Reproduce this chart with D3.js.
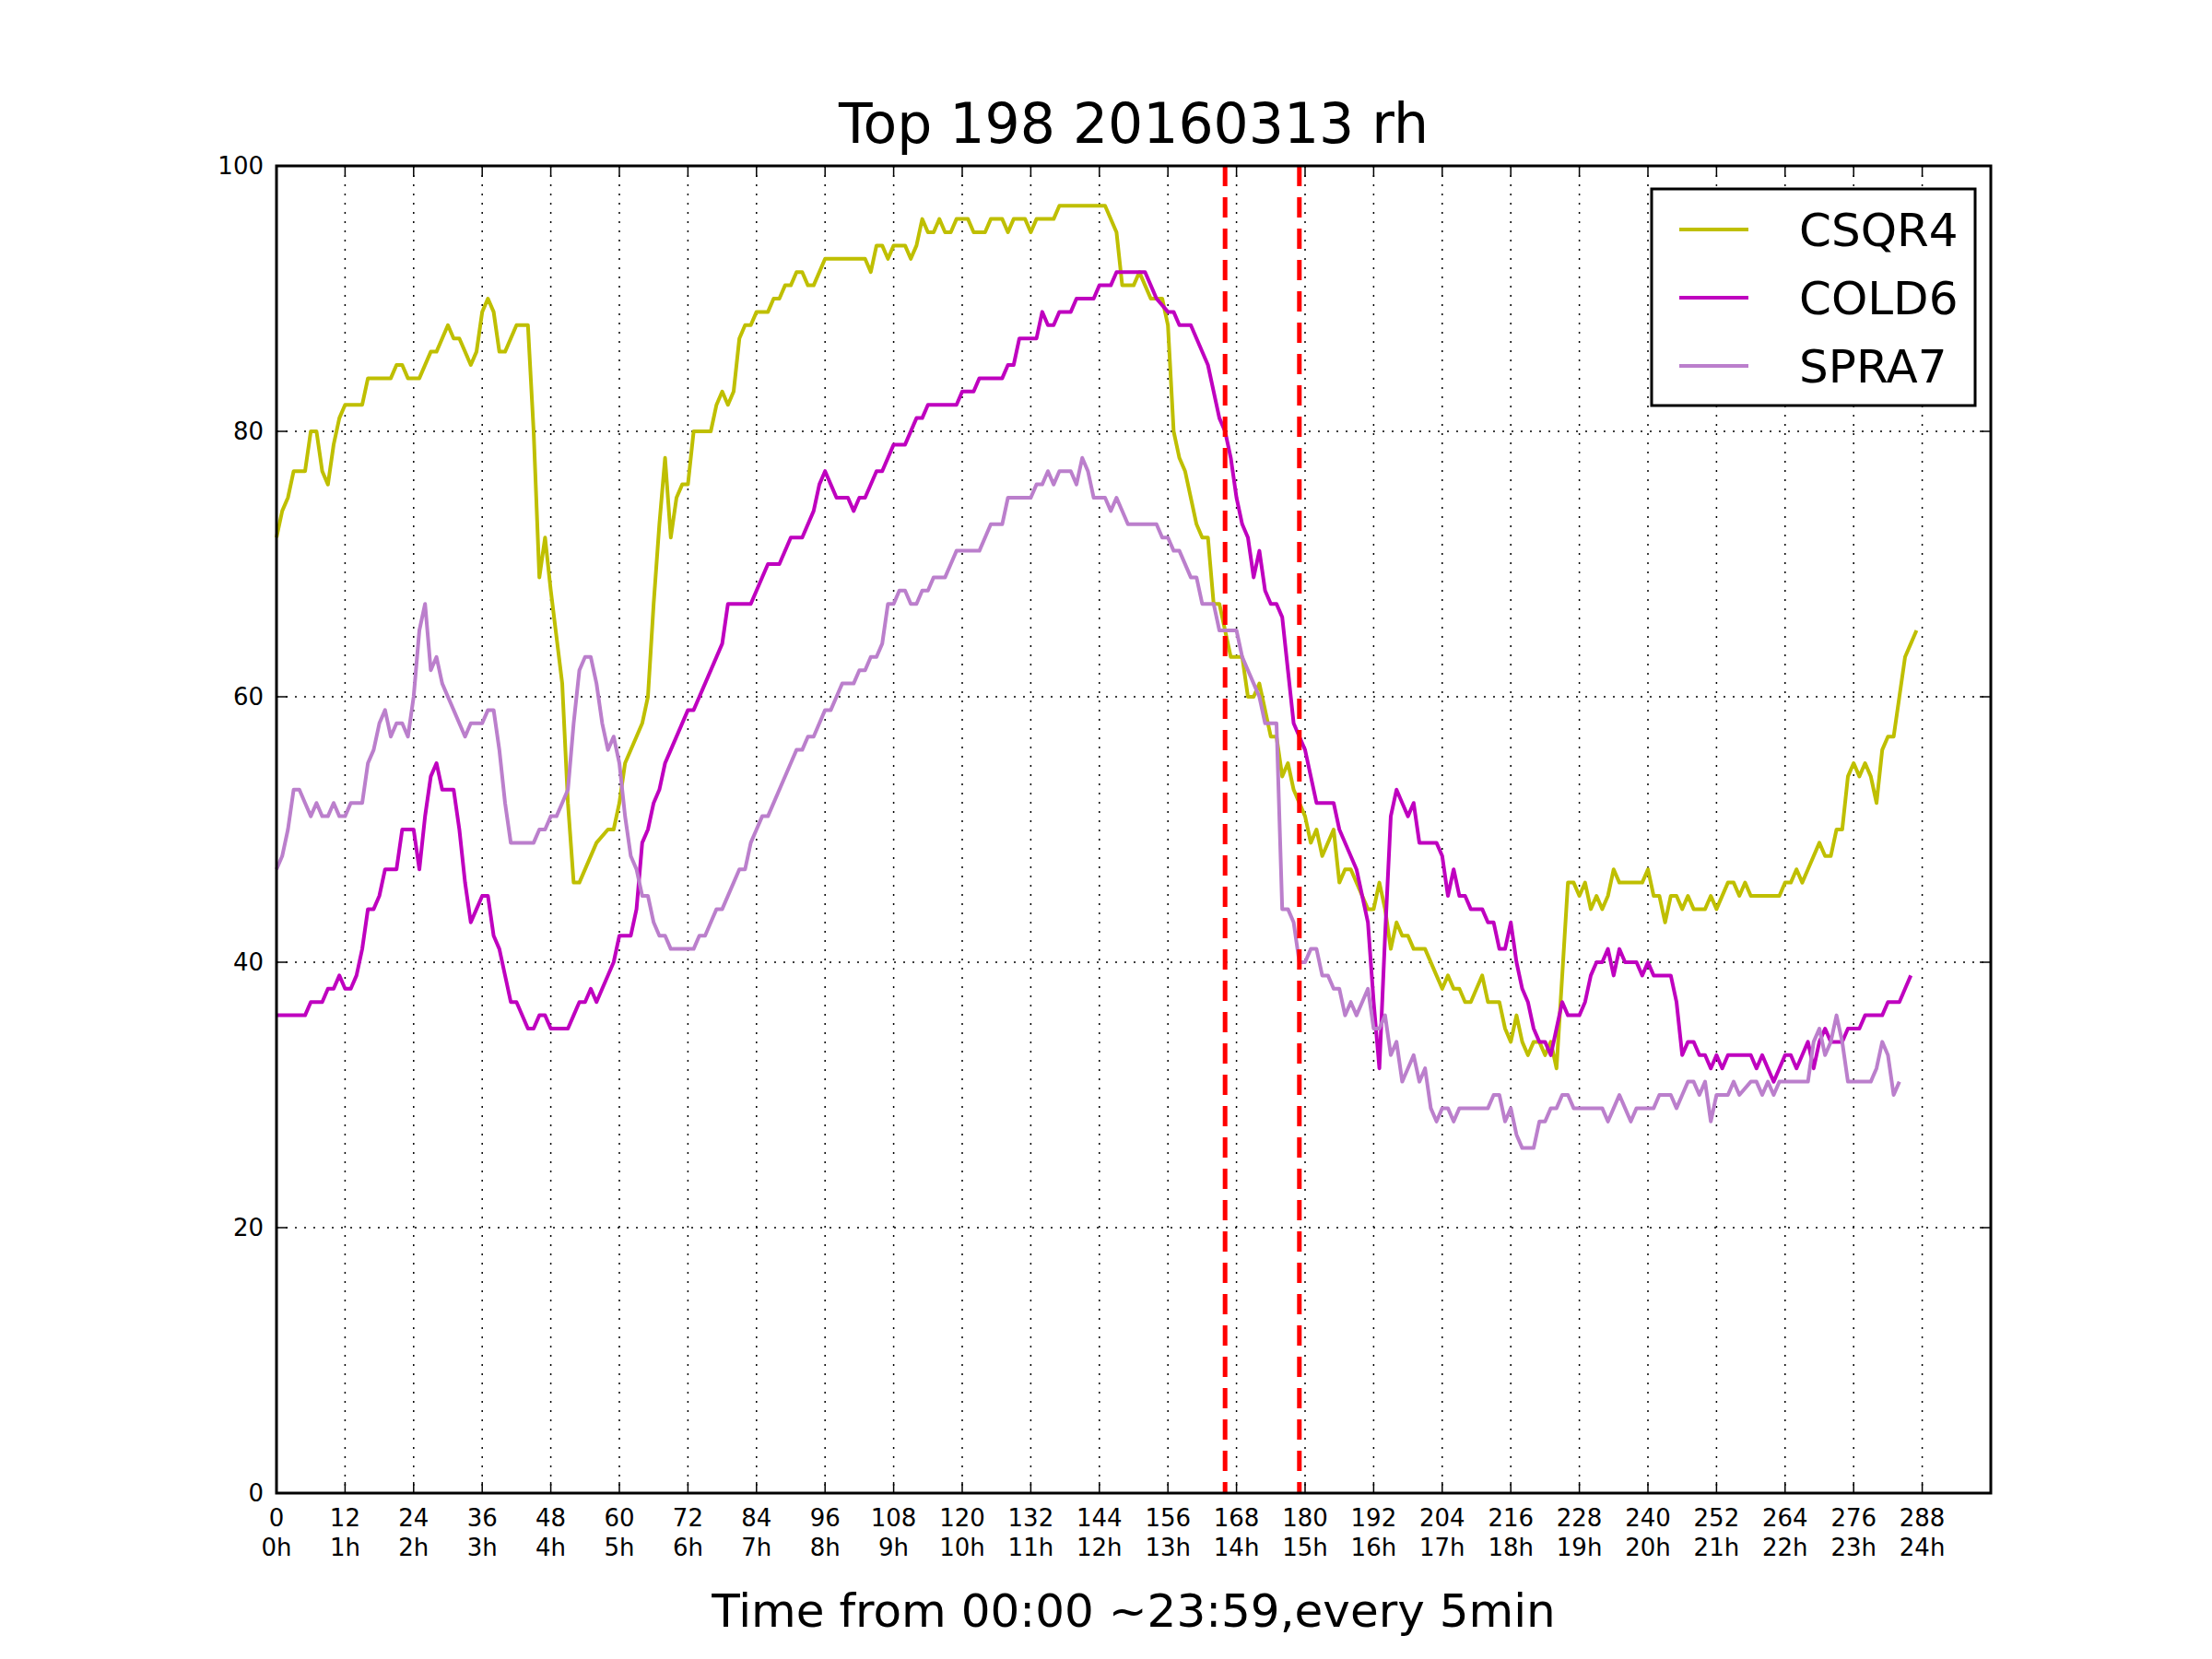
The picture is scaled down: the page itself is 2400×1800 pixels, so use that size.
<!DOCTYPE html>
<html><head><meta charset="utf-8">
<script src="https://cdn.jsdelivr.net/npm/d3@7"></script>
<style>body{margin:0;background:#fff}text{font-family:"DejaVu Sans",sans-serif}</style>
</head><body><svg id="chart" width="2400" height="1800"></svg>
<script>
// sampled readings: [time index (5 min steps), rh]
var csqr4 = [[0,72],[1,74],[2,75],[3,77],[5,77],[6,80],[7,80],[8,77],[9,76],[10,79],[11,81],[12,82],[15,82],[16,84],[20,84],[21,85],[22,85],[23,84],[25,84],[27,86],[28,86],[30,88],[31,87],[32,87],[34,85],[35,86],[36,89],[37,90],[38,89],[39,86],[40,86],[42,88],[44,88],[45,80],[46,69],[47,72],[48,68],[50,61],[51,52],[52,46],[53,46],[56,49],[58,50],[59,50],[60,52],[61,55],[63,57],[64,58],[65,60],[66,67],[67,73],[68,78],[69,72],[70,75],[71,76],[72,76],[73,80],[76,80],[77,82],[78,83],[79,82],[80,83],[81,87],[82,88],[83,88],[84,89],[86,89],[87,90],[88,90],[89,91],[90,91],[91,92],[92,92],[93,91],[94,91],[96,93],[103,93],[104,92],[105,94],[106,94],[107,93],[108,94],[110,94],[111,93],[112,94],[113,96],[114,95],[115,95],[116,96],[117,95],[118,95],[119,96],[121,96],[122,95],[124,95],[125,96],[127,96],[128,95],[129,96],[131,96],[132,95],[133,96],[136,96],[137,97],[145,97],[147,95],[148,91],[150,91],[151,92],[152,91],[153,90],[155,90],[156,88],[157,80],[158,78],[159,77],[160,75],[161,73],[162,72],[163,72],[164,67],[165,67],[166,65],[167,63],[169,63],[170,60],[171,60],[172,61],[173,59],[174,57],[175,57],[176,54],[177,55],[178,53],[179,52],[180,51],[181,49],[182,50],[183,48],[184,49],[185,50],[186,46],[187,47],[188,47],[190,45],[191,44],[192,44],[193,46],[194,44],[195,41],[196,43],[197,42],[198,42],[199,41],[201,41],[203,39],[204,38],[205,39],[206,38],[207,38],[208,37],[209,37],[210,38],[211,39],[212,37],[214,37],[215,35],[216,34],[217,36],[218,34],[219,33],[220,34],[221,34],[222,33],[223,34],[224,32],[226,46],[227,46],[228,45],[229,46],[230,44],[231,45],[232,44],[233,45],[234,47],[235,46],[239,46],[240,47],[241,45],[242,45],[243,43],[244,45],[245,45],[246,44],[247,45],[248,44],[250,44],[251,45],[252,44],[254,46],[255,46],[256,45],[257,46],[258,45],[263,45],[264,46],[265,46],[266,47],[267,46],[268,47],[270,49],[271,48],[272,48],[273,50],[274,50],[275,54],[276,55],[277,54],[278,55],[279,54],[280,52],[281,56],[282,57],[283,57],[284,60],[285,63],[286,64],[287,65]];
var cold6 = [[0,36],[5,36],[6,37],[8,37],[9,38],[10,38],[11,39],[12,38],[13,38],[14,39],[15,41],[16,44],[17,44],[18,45],[19,47],[21,47],[22,50],[24,50],[25,47],[26,51],[27,54],[28,55],[29,53],[31,53],[32,50],[33,46],[34,43],[35,44],[36,45],[37,45],[38,42],[39,41],[40,39],[41,37],[42,37],[44,35],[45,35],[46,36],[47,36],[48,35],[51,35],[52,36],[53,37],[54,37],[55,38],[56,37],[57,38],[59,40],[60,42],[62,42],[63,44],[64,49],[65,50],[66,52],[67,53],[68,55],[69,56],[72,59],[73,59],[78,64],[79,67],[83,67],[86,70],[88,70],[90,72],[92,72],[94,74],[95,76],[96,77],[97,76],[98,75],[100,75],[101,74],[102,75],[103,75],[105,77],[106,77],[108,79],[110,79],[112,81],[113,81],[114,82],[119,82],[120,83],[122,83],[123,84],[127,84],[128,85],[129,85],[130,87],[133,87],[134,89],[135,88],[136,88],[137,89],[139,89],[140,90],[143,90],[144,91],[146,91],[147,92],[152,92],[153,91],[154,90],[156,89],[157,89],[158,88],[160,88],[163,85],[165,81],[166,80],[167,78],[168,75],[169,73],[170,72],[171,69],[172,71],[173,68],[174,67],[175,67],[176,66],[177,62],[178,58],[179,57],[180,56],[181,54],[182,52],[185,52],[186,50],[189,47],[190,45],[191,43],[192,37],[193,32],[194,42],[195,51],[196,53],[197,52],[198,51],[199,52],[200,49],[203,49],[204,48],[205,45],[206,47],[207,45],[208,45],[209,44],[211,44],[212,43],[213,43],[214,41],[215,41],[216,43],[217,40],[218,38],[219,37],[220,35],[221,34],[222,34],[223,33],[224,35],[225,37],[226,36],[228,36],[229,37],[230,39],[231,40],[232,40],[233,41],[234,39],[235,41],[236,40],[238,40],[239,39],[240,40],[241,39],[244,39],[245,37],[246,33],[247,34],[248,34],[249,33],[250,33],[251,32],[252,33],[253,32],[254,33],[258,33],[259,32],[260,33],[261,32],[262,31],[263,32],[264,33],[265,33],[266,32],[267,33],[268,34],[269,32],[270,34],[271,35],[272,34],[274,34],[275,35],[277,35],[278,36],[281,36],[282,37],[284,37],[285,38],[286,39]];
var spra7 = [[0,47],[1,48],[2,50],[3,53],[4,53],[5,52],[6,51],[7,52],[8,51],[9,51],[10,52],[11,51],[12,51],[13,52],[15,52],[16,55],[17,56],[18,58],[19,59],[20,57],[21,58],[22,58],[23,57],[24,60],[25,65],[26,67],[27,62],[28,63],[29,61],[31,59],[33,57],[34,58],[36,58],[37,59],[38,59],[39,56],[40,52],[41,49],[45,49],[46,50],[47,50],[48,51],[49,51],[50,52],[51,53],[52,58],[53,62],[54,63],[55,63],[56,61],[57,58],[58,56],[59,57],[60,55],[61,51],[62,48],[63,47],[64,45],[65,45],[66,43],[67,42],[68,42],[69,41],[73,41],[74,42],[75,42],[76,43],[77,44],[78,44],[81,47],[82,47],[83,49],[84,50],[85,51],[86,51],[90,55],[91,56],[92,56],[93,57],[94,57],[95,58],[96,59],[97,59],[98,60],[99,61],[101,61],[102,62],[103,62],[104,63],[105,63],[106,64],[107,67],[108,67],[109,68],[110,68],[111,67],[112,67],[113,68],[114,68],[115,69],[117,69],[118,70],[119,71],[123,71],[124,72],[125,73],[127,73],[128,75],[132,75],[133,76],[134,76],[135,77],[136,76],[137,77],[139,77],[140,76],[141,78],[142,77],[143,75],[145,75],[146,74],[147,75],[149,73],[154,73],[155,72],[156,72],[157,71],[158,71],[160,69],[161,69],[162,67],[164,67],[165,65],[168,65],[169,63],[170,62],[171,61],[172,60],[173,58],[175,58],[176,44],[177,44],[178,43],[179,40],[180,40],[181,41],[182,41],[183,39],[184,39],[185,38],[186,38],[187,36],[188,37],[189,36],[190,37],[191,38],[192,35],[193,35],[194,36],[195,33],[196,34],[197,31],[198,32],[199,33],[200,31],[201,32],[202,29],[203,28],[204,29],[205,29],[206,28],[207,29],[212,29],[213,30],[214,30],[215,28],[216,29],[217,27],[218,26],[220,26],[221,28],[222,28],[223,29],[224,29],[225,30],[226,30],[227,29],[232,29],[233,28],[234,29],[235,30],[236,29],[237,28],[238,29],[241,29],[242,30],[244,30],[245,29],[246,30],[247,31],[248,31],[249,30],[250,31],[251,28],[252,30],[254,30],[255,31],[256,30],[258,31],[259,31],[260,30],[261,31],[262,30],[263,31],[268,31],[269,34],[270,35],[271,33],[272,34],[273,36],[274,34],[275,31],[279,31],[280,32],[281,34],[282,33],[283,30],[284,31]];
var seriesNames = ["CSQR4", "COLD6", "SPRA7"];
var seriesColors = ["#bfbf00", "#bf00bf", "#bb7fcc"];
var markers = [166, 179];
var xTicks = d3.range(0, 289, 12);
var yTicks = [0, 20, 40, 60, 80, 100];

var svg = d3.select("#chart");
var L = 300, R = 2160, T = 180, B = 1620;
var x = d3.scaleLinear().domain([0, 300]).range([L, R]);
var y = d3.scaleLinear().domain([0, 100]).range([B, T]);

// grid
svg.selectAll(".gx").data(xTicks).enter().append("line")
  .attr("x1", d => x(d)).attr("x2", d => x(d)).attr("y1", T).attr("y2", B)
  .attr("stroke", "#000").attr("stroke-width", 1.5).attr("stroke-dasharray", "2,8");
svg.selectAll(".gy").data(yTicks).enter().append("line")
  .attr("x1", L).attr("x2", R).attr("y1", d => y(d)).attr("y2", d => y(d))
  .attr("stroke", "#000").attr("stroke-width", 1.5).attr("stroke-dasharray", "2,8");

// lines
var line = d3.line().x(d => x(d[0])).y(d => y(d[1]));
[csqr4, cold6, spra7].forEach((s, i) => {
  svg.append("path").attr("d", line(s)).attr("fill", "none")
    .attr("stroke", seriesColors[i]).attr("stroke-width", 4).attr("stroke-linejoin", "round");
});

// red dashed markers
markers.forEach(m => {
  svg.append("line").attr("x1", x(m)).attr("x2", x(m)).attr("y1", T).attr("y2", B)
    .attr("stroke", "#ff0000").attr("stroke-width", 5).attr("stroke-dasharray", "22,12");
});

// frame + inward ticks
svg.append("rect").attr("x", L).attr("y", T).attr("width", R - L).attr("height", B - T)
  .attr("fill", "none").attr("stroke", "#000").attr("stroke-width", 3);
xTicks.forEach(t => {
  svg.append("line").attr("x1", x(t)).attr("x2", x(t)).attr("y1", B).attr("y2", B - 12).attr("stroke", "#000").attr("stroke-width", 1.5);
  svg.append("line").attr("x1", x(t)).attr("x2", x(t)).attr("y1", T).attr("y2", T + 12).attr("stroke", "#000").attr("stroke-width", 1.5);
  var tx = svg.append("text").attr("x", x(t)).attr("text-anchor", "middle").attr("font-size", 26);
  tx.append("tspan").attr("x", x(t)).attr("y", B + 36).text(t);
  tx.append("tspan").attr("x", x(t)).attr("y", B + 68).text((t / 12) + "h");
});
yTicks.forEach(t => {
  svg.append("line").attr("x1", L).attr("x2", L + 12).attr("y1", y(t)).attr("y2", y(t)).attr("stroke", "#000").attr("stroke-width", 1.5);
  svg.append("line").attr("x1", R).attr("x2", R - 12).attr("y1", y(t)).attr("y2", y(t)).attr("stroke", "#000").attr("stroke-width", 1.5);
  svg.append("text").attr("x", L - 14).attr("y", y(t) + 9).attr("text-anchor", "end").attr("font-size", 26).text(t);
});

svg.append("text").attr("x", (L + R) / 2).attr("y", 155).attr("text-anchor", "middle").attr("font-size", 60).text("Top 198 20160313 rh");
svg.append("text").attr("x", (L + R) / 2).attr("y", 1765).attr("text-anchor", "middle").attr("font-size", 50).text("Time from 00:00 ~23:59,every 5min");

// legend
var lg = svg.append("g").attr("transform", "translate(1792,205)");
lg.append("rect").attr("width", 351).attr("height", 235).attr("fill", "#fff").attr("stroke", "#000").attr("stroke-width", 3);
seriesNames.forEach((n, i) => {
  var yy = 44 + i * 74;
  lg.append("line").attr("x1", 30).attr("x2", 105).attr("y1", yy).attr("y2", yy).attr("stroke", seriesColors[i]).attr("stroke-width", 4);
  lg.append("text").attr("x", 160).attr("y", yy + 18).attr("font-size", 50).text(n);
});
</script></body></html>
